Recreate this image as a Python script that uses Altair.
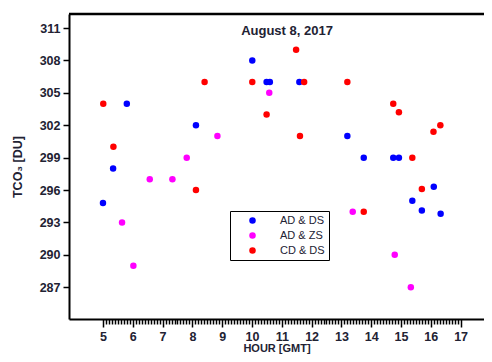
import altair as alt
import pandas as pd

# AD & DS (blue)
ad_ds_hour = [5.0, 5.34, 5.8, 8.12, 10.01, 10.49, 10.6, 11.59, 13.2, 13.75, 14.74, 14.93, 15.38, 16.1, 15.7, 16.33]
ad_ds_tco3 = [294.8, 298.0, 304.0, 302.0, 308.0, 306.0, 306.0, 306.0, 301.0, 299.0, 299.0, 299.0, 295.0, 296.3, 294.1, 293.8]
# AD & ZS (magenta)
ad_zs_hour = [5.64, 6.02, 6.57, 7.33, 7.81, 8.84, 10.58, 13.38, 14.79, 15.33]
ad_zs_tco3 = [293.0, 289.0, 297.0, 297.0, 299.0, 301.0, 305.0, 294.0, 290.0, 287.0]
# CD & DS (red)
cd_ds_hour = [5.01, 5.35, 8.12, 8.41, 10.01, 10.49, 11.48, 11.61, 11.75, 13.2, 13.75, 14.74, 14.93, 15.38, 15.7, 16.09, 16.32]
cd_ds_tco3 = [304.0, 300.0, 296.0, 306.0, 306.0, 303.0, 309.0, 301.0, 306.0, 306.0, 294.0, 304.0, 303.2, 299.0, 296.1, 301.4, 302.0]

series_names = ["AD & DS", "AD & ZS", "CD & DS"]
series_colors = ["#0000FF", "#FF00FF", "#FF0000"]

y_ticks = [287, 290, 293, 296, 299, 302, 305, 308, 311]
x_ticks = [round(5 + i * 0.1, 1) for i in range(121)]

rows = []
for name, hs, vs in [("AD & DS", ad_ds_hour, ad_ds_tco3),
                     ("AD & ZS", ad_zs_hour, ad_zs_tco3),
                     ("CD & DS", cd_ds_hour, cd_ds_tco3)]:
    for h, v in zip(hs, vs):
        rows.append({"hour": h, "tco3": v, "series": name})
df = pd.DataFrame(rows)
df["order"] = df["series"].map({n: i for i, n in enumerate(series_names)})

FONT = "Liberation Sans"
LBL = "#222233"
is_int = "abs(datum.value - round(datum.value)) < 0.01"

x_enc = alt.X(
    "hour:Q",
    scale=alt.Scale(domain=[3.86, 17.785], nice=False, zero=False),
    axis=alt.Axis(
        values=x_ticks,
        title="HOUR [GMT]",
        titleFontSize=11,
        labelExpr=f"{is_int} ? format(datum.value, 'd') : ''",
        labelOverlap=False,
        labelFlush=False,
        tickSize={"condition": {"test": is_int, "value": 8}, "value": 5},
        labelPadding=3,
        grid=False,
        titlePadding=0,
    ),
)
y_enc = alt.Y(
    "tco3:Q",
    scale=alt.Scale(domain=[284.06, 312.3], nice=False, zero=False),
    axis=alt.Axis(values=y_ticks, title="TCO₃ [DU]", tickSize=6, labelPadding=3,
                  grid=False, titlePadding=15),
)

points = alt.Chart(df).mark_circle(size=42, opacity=1).encode(
    x=x_enc,
    y=y_enc,
    color=alt.Color(
        "series:N",
        scale=alt.Scale(domain=series_names, range=series_colors),
        legend=alt.Legend(
            title=None,
            orient="none",
            legendX=161,
            legendY=197,
            strokeColor="#000000",
            padding=4,
            symbolOffset=13,
            labelOffset=22,
            rowPadding=3,
            labelFont=FONT,
            labelFontSize=11,
            labelColor=LBL,
            symbolType="circle",
            symbolSize=42,
        ),
    ),
    order=alt.Order("order:Q"),
)

top_line = alt.Chart(pd.DataFrame({"a": [0]})).mark_rule(color="#000000", strokeWidth=2.5).encode(
    x=alt.value(0), x2=alt.value(415), y=alt.value(0)
)

title_txt = alt.Chart(pd.DataFrame({"t": ["August 8, 2017"]})).mark_text(
    font=FONT, fontSize=13, fontWeight="bold", color=LBL, align="center", baseline="middle"
).encode(text="t:N", x=alt.value(218), y=alt.value(17))

chart = alt.layer(points, top_line, title_txt).properties(
    width=415,
    height=305,
    autosize=alt.AutoSizeParams(type="none"),
    padding={"left": 61, "top": 6, "right": 0, "bottom": 35},
).configure_view(stroke=None).configure_axis(
    domainColor="#000000",
    domainWidth=2,
    tickColor="#000000",
    tickWidth=1.5,
    labelFont=FONT,
    labelFontSize=12.5,
    labelFontWeight="bold",
    labelColor=LBL,
    titleFont=FONT,
    titleFontSize=12.5,
    titleFontWeight="bold",
    titleColor=LBL,
)

chart.save("out.html", embed_options={"renderer": "svg", "actions": False})
